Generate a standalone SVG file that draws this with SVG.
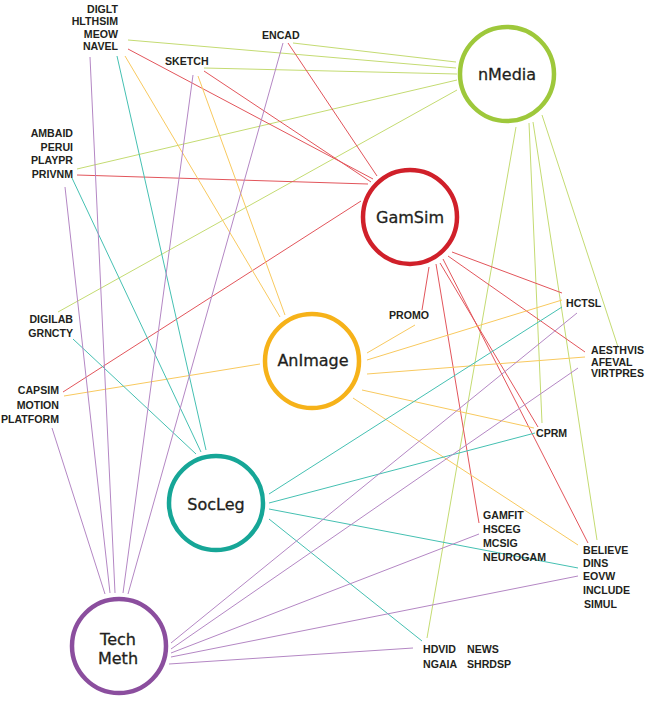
<svg xmlns="http://www.w3.org/2000/svg" width="650" height="703" viewBox="0 0 650 703">
<style>
.lbl{font-family:"Liberation Sans",Arial,sans-serif;font-weight:bold;font-size:10.6px;fill:#231f20}
.end{text-anchor:end}
.node{font-family:"DejaVu Sans","Liberation Sans",sans-serif;font-size:16px;fill:#231f20;text-anchor:middle;stroke:#231f20;stroke-width:0.3}
.ring{fill:#fff;stroke-width:4.5}
.lg{stroke:#c4db72;stroke-width:1;fill:none}
.lr{stroke:#e2555b;stroke-width:1;fill:none}
.lo{stroke:#f8c95f;stroke-width:1;fill:none}
.lt{stroke:#45c0b2;stroke-width:1;fill:none}
.lp{stroke:#b487c4;stroke-width:1;fill:none}
</style>
<rect width="650" height="703" fill="#fff"/>
<g id="connectors">
<g class="lg">
<line x1="293" y1="43" x2="456" y2="62"/>
<line x1="128" y1="40" x2="456" y2="68"/>
<line x1="204" y1="68" x2="457" y2="74"/>
<line x1="77" y1="169" x2="457" y2="80"/>
<line x1="58" y1="312" x2="457" y2="90"/>
<line x1="516" y1="127" x2="427" y2="638"/>
<line x1="529" y1="123" x2="542" y2="423"/>
<line x1="533" y1="122" x2="597" y2="540"/>
<line x1="542" y1="115" x2="618" y2="347"/>
</g>
<g class="lr">
<line x1="288" y1="43" x2="377" y2="176"/>
<line x1="128" y1="49" x2="373" y2="179"/>
<line x1="204" y1="71" x2="371" y2="182"/>
<line x1="77" y1="175" x2="368" y2="184"/>
<line x1="63" y1="392" x2="361" y2="201"/>
<line x1="429" y1="267" x2="422" y2="310"/>
<line x1="436" y1="264" x2="479" y2="523"/>
<line x1="440" y1="263" x2="538" y2="427"/>
<line x1="443" y1="259" x2="588" y2="543"/>
<line x1="448" y1="256" x2="585" y2="352"/>
<line x1="452" y1="252" x2="562" y2="293"/>
</g>
<g class="lo">
<line x1="125" y1="56" x2="280" y2="317"/>
<line x1="198" y1="76" x2="285" y2="315"/>
<line x1="64" y1="396" x2="260" y2="364"/>
<line x1="415" y1="325" x2="367" y2="353"/>
<line x1="562" y1="300" x2="367" y2="360"/>
<line x1="585" y1="357" x2="367" y2="374"/>
<line x1="534" y1="428" x2="362" y2="390"/>
<line x1="578" y1="545" x2="353" y2="398"/>
</g>
<g class="lt">
<line x1="73" y1="339" x2="196" y2="454"/>
<line x1="72" y1="178" x2="201" y2="452"/>
<line x1="117" y1="56" x2="206" y2="450"/>
<line x1="562" y1="307" x2="269" y2="494"/>
<line x1="535" y1="433" x2="269" y2="503"/>
<line x1="578" y1="568" x2="269" y2="509"/>
<line x1="422" y1="641" x2="269" y2="519"/>
</g>
<g class="lp">
<line x1="52" y1="428" x2="105" y2="594"/>
<line x1="65" y1="187" x2="110" y2="593"/>
<line x1="90" y1="57" x2="115" y2="593"/>
<line x1="193" y1="75" x2="123" y2="593"/>
<line x1="283" y1="43" x2="128" y2="594"/>
<line x1="577" y1="313" x2="171" y2="643"/>
<line x1="578" y1="368" x2="171" y2="649"/>
<line x1="479" y1="534" x2="171" y2="653"/>
<line x1="578" y1="576" x2="171" y2="657"/>
<line x1="413" y1="648" x2="169" y2="664"/>
</g>
</g>
<g id="nMedia">
<circle class="ring" cx="507" cy="74" r="47" stroke="#9ec83b"/>
<text class="node" x="507" y="79.5">nMedia</text>
</g>
<g id="GamSim">
<circle class="ring" cx="410" cy="217" r="47" stroke="#d0202a"/>
<text class="node" x="410" y="222.5">GamSim</text>
</g>
<g id="AnImage">
<circle class="ring" cx="312" cy="361" r="47" stroke="#f6b219"/>
<text class="node" x="313" y="366">AnImage</text>
</g>
<g id="SocLeg">
<circle class="ring" cx="216" cy="503" r="47" stroke="#16a697"/>
<text class="node" x="216" y="509.5">SocLeg</text>
</g>
<g id="TechMeth">
<circle class="ring" cx="119" cy="646" r="47" stroke="#8b4e9e"/>
<text class="node" x="118" y="645">Tech</text>
<text class="node" x="118" y="663.5">Meth</text>
</g>
<g id="grp-diglt">
<text class="lbl end" x="118" y="13">DIGLT</text>
<text class="lbl end" x="118" y="25">HLTHSIM</text>
<text class="lbl end" x="118" y="37.5">MEOW</text>
<text class="lbl end" x="118" y="50">NAVEL</text>
</g>
<g id="encad"><text class="lbl" x="262" y="39">ENCAD</text></g>
<g id="sketch"><text class="lbl" x="165" y="65">SKETCH</text></g>
<g id="grp-ambaid">
<text class="lbl end" x="73" y="137">AMBAID</text>
<text class="lbl end" x="73" y="151">PERUI</text>
<text class="lbl end" x="73" y="164">PLAYPR</text>
<text class="lbl end" x="73" y="178">PRIVNM</text>
</g>
<g id="grp-digilab">
<text class="lbl end" x="73" y="323">DIGILAB</text>
<text class="lbl end" x="73" y="337">GRNCTY</text>
</g>
<g id="grp-capsim">
<text class="lbl end" x="59" y="394">CAPSIM</text>
<text class="lbl end" x="59" y="409">MOTION</text>
<text class="lbl end" x="59" y="423">PLATFORM</text>
</g>
<g id="promo"><text class="lbl" x="389" y="319">PROMO</text></g>
<g id="hctsl"><text class="lbl" x="566" y="307">HCTSL</text></g>
<g id="grp-aesthvis">
<text class="lbl" x="591" y="354">AESTHVIS</text>
<text class="lbl" x="591" y="366">AFEVAL</text>
<text class="lbl" x="591" y="377">VIRTPRES</text>
</g>
<g id="cprm"><text class="lbl" x="536" y="437">CPRM</text></g>
<g id="grp-gamfit">
<text class="lbl" x="483" y="519">GAMFIT</text>
<text class="lbl" x="483" y="533">HSCEG</text>
<text class="lbl" x="483" y="547">MCSIG</text>
<text class="lbl" x="483" y="561">NEUROGAM</text>
</g>
<g id="grp-believe">
<text class="lbl" x="583" y="554">BELIEVE</text>
<text class="lbl" x="583" y="567">DINS</text>
<text class="lbl" x="583" y="580">EOVW</text>
<text class="lbl" x="583" y="594">INCLUDE</text>
<text class="lbl" x="584" y="608">SIMUL</text>
</g>
<g id="grp-hdvid">
<text class="lbl" x="423" y="653">HDVID</text>
<text class="lbl" x="423" y="668">NGAIA</text>
<text class="lbl" x="467" y="653">NEWS</text>
<text class="lbl" x="467" y="668">SHRDSP</text>
</g>
</svg>
